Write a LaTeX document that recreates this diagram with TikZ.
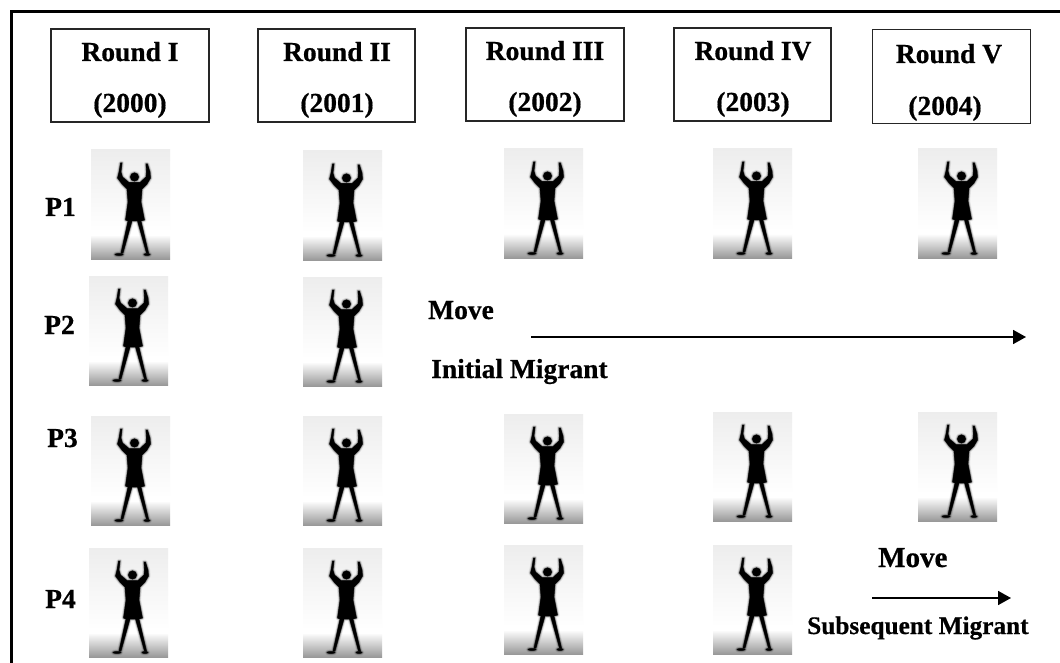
\documentclass[tikz,border=0pt]{standalone}
\usepackage{fontspec}
\setmainfont{Liberation Serif}[BoldFeatures={FakeBold=0.6}]
\usetikzlibrary{arrows.meta}
\newcommand{\silhouette}{
  (29.5,13) -- (31,13) -- (30,22) -- (31.5,27) -- (38,32.5) -- (49,32.5) -- (55,27) -- (55.5,22) -- (55,14) -- (56.5,14) -- (59,22) -- (59.5,28) -- (56,34) -- (51,39) -- (50,52) -- (53.5,70) -- (50,71) -- (57.5,103) -- (55.5,103) -- (46.5,71) -- (41,71) -- (32,103) -- (30,103) -- (37,71) -- (34.5,70) -- (37,52) -- (36,39) -- (31,34) -- (26.5,28) -- (28,22) -- cycle
  (43.5,27) circle[radius=4.2]
  (28,104.5) ellipse[x radius=4,y radius=1]
  (56,104.5) ellipse[x radius=3,y radius=1]
}
\tikzset{
  x=1pt,y=-1pt,
  person/.pic={
    \shade[top color=black!7,bottom color=white] (0,0) rectangle (79,82);
    \fill[white] (0,82) rectangle (79,86);
    \shade[top color=black!2,bottom color=black!40] (0,86) rectangle (79,109);
    \foreach \w/\o in {4.4/.06,3/.12,1.8/.22,.8/.5}{
      \fill[black,opacity=\o,draw=black,line width=\w pt,line join=round] \silhouette;
    }
    \fill[black] \silhouette;
  },
  roundbox/.style={draw=black!85,line width=1.2pt,fill=white},
  lbl/.style={font=\fontsize{27.5}{30}\selectfont\bfseries,anchor=base,inner sep=0pt,text=black},
  sublbl/.style={font=\fontsize{25.3}{28}\selectfont\bfseries,anchor=base,inner sep=0pt,text=black},
  flow/.style={draw=black,line width=1.8pt,-{Triangle[length=13pt,width=14pt]}}
}
\begin{document}
\begin{tikzpicture}
\useasboundingbox (0,0) rectangle (1060,663);
\fill[white] (0,0) rectangle (1060,663);
% frame
\coordinate (frameA) at (11,663);
\coordinate (frameB) at (11,12);
\coordinate (frameC) at (1060,12);
\draw[black,line width=3pt,line join=miter] (frameA) -- (frameB) -- (frameC);
% header boxes
\draw[roundbox] (51,29) rectangle (209,122);
\draw[roundbox] (258,29) rectangle (415,122);
\draw[roundbox] (466,28) rectangle (624,121);
\draw[roundbox] (674,28) rectangle (831,121);
\draw[roundbox,line width=1pt] (872,30) rectangle (1030,124);
\node[lbl] (r1) at (130,61) {Round I};
\node[lbl] (y1) at (130,112) {(2000)};
\node[lbl] (r2) at (337,61) {Round II};
\node[lbl] (y2) at (337,112) {(2001)};
\node[lbl] (r3) at (545,60) {Round III};
\node[lbl] (y3) at (545,111) {(2002)};
\node[lbl] (r4) at (753,60) {Round IV};
\node[lbl] (y4) at (753,111) {(2003)};
\node[lbl] (r5) at (949,63) {Round V};
\node[lbl] (y5) at (945,115) {(2004)};
% row labels
\node[lbl,anchor=base west] (p1) at (45,216) {P1};
\node[lbl,anchor=base west] (p2) at (44,334) {P2};
\node[lbl,anchor=base west] (p3) at (47,447) {P3};
\node[lbl,anchor=base west] (p4) at (45,608) {P4};
% people
\foreach \x/\y in {91/150,303/151,504/149,713/149,918/149,
                   89/276,303/277,
                   91/416,303/416,504/414,713/412,918/412,
                   89/548,303/548,504/545,713/545}{
  \pic at (\x,\y) {person};
}
% moves
\node[lbl,anchor=base west] (m1) at (428,319) {Move};
\node[lbl,anchor=base west] (im) at (431,378) {Initial Migrant};
\coordinate (a1) at (531,337);
\coordinate (a2) at (1026,337);
\draw[flow] (a1) -- (a2);
\node[lbl,anchor=base west,font=\fontsize{29}{30}\selectfont\bfseries] (m2) at (878,567) {Move};
\node[sublbl,anchor=base west] (sm) at (807,634) {Subsequent Migrant};
\coordinate (b1) at (872,598);
\coordinate (b2) at (1011,598);
\draw[flow] (b1) -- (b2);
\end{tikzpicture}
\end{document}
